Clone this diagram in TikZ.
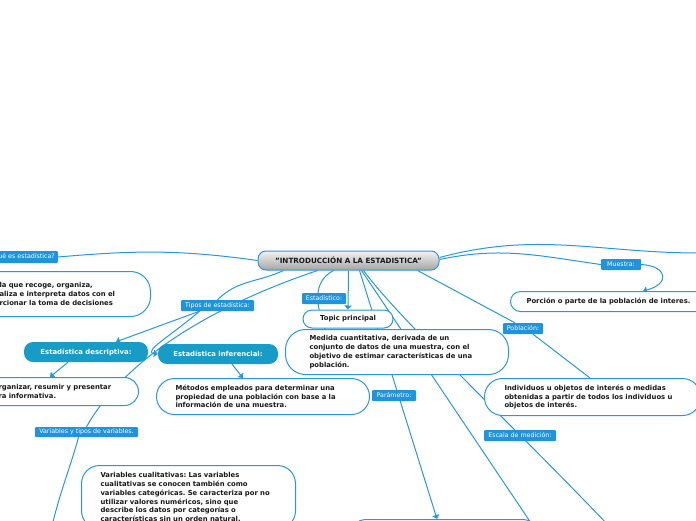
\documentclass[tikz,border=0pt]{standalone}
\usepackage{fontspec}
\setmainfont{DejaVu Sans}
\usetikzlibrary{arrows.meta}
\pgfdeclarelayer{bg}
\pgfsetlayers{bg,main}
\definecolor{lnblue}{RGB}{38,152,222}
\definecolor{lblblue}{RGB}{30,148,222}
\definecolor{tealbox}{RGB}{22,156,198}
\definecolor{txtdark}{RGB}{25,25,25}
\frenchspacing
\begin{document}
\begin{tikzpicture}[x=1pt,y=-1pt,
  conn/.style={draw=lnblue, line width=1pt},
  arr/.style={conn, -{Triangle[length=4pt,width=7pt]}},
  lbl/.style={fill=lblblue, text=white, font=\fontsize{6.3}{7}\selectfont, inner sep=0pt, rounded corners=1pt},
  tbox/.style={draw=lnblue, line width=1pt, fill=white, text=txtdark, font=\bfseries\fontsize{6.85}{8.8}\selectfont, align=left, inner ysep=0pt},
  tealb/.style={fill=tealbox, text=white, font=\bfseries\fontsize{6.9}{7.5}\selectfont, rounded corners=9pt, inner sep=0pt}
]
\useasboundingbox (0,0) rectangle (696,520);

% central topic
\node[draw=lnblue, line width=1pt, rounded corners=8pt, top color=gray!10, bottom color=gray!70,
      minimum width=181pt, minimum height=19pt, inner sep=0pt,
      font=\bfseries\fontsize{7.2}{8}\selectfont, text=txtdark] (c) at (348.5,260.5) {"INTRODUCCIÓN A LA ESTADISTICA"};

% labels
\node[lbl, minimum height=12pt, anchor=east, inner xsep=3pt] (q) at (58,257) {¿Qué es estadística?};
\node[lbl, minimum width=73pt, minimum height=11pt] (tipos) at (217.5,305.5) {Tipos de estadística:};
\node[lbl, minimum width=44pt, minimum height=11pt] (est) at (324,298.5) {Estadístico:};
\node[lbl, minimum width=40pt, minimum height=11pt] (mue) at (621,264.5) {Muestra:};
\node[lbl, minimum width=40pt, minimum height=11pt] (pob) at (523,328.5) {Población:};
\node[lbl, minimum width=44pt, minimum height=11pt] (par) at (394,395.5) {Parámetro:};
\node[lbl, minimum width=103pt, minimum height=10pt] (var) at (86.5,432) {Variables y tipos de variables.};
\node[lbl, minimum width=72pt, minimum height=11pt] (esc) at (520,435.5) {Escala de medición:};

% teal topics
\node[tealb, minimum width=124pt, minimum height=20pt] (desc) at (86,352) {Estadística descriptiva:};
\node[tealb, minimum width=120pt, minimum height=20pt] (inf) at (218,354) {Estadística inferencial:};

% text boxes
\node[tbox, anchor=north west, text width=132pt, inner xsep=19pt, minimum height=45pt, rounded corners=20pt] (defb) at (-20,271)
  {la que recoge, organiza,\\aliza e interpreta datos con el\\rcionar la toma de decisiones\\[3pt]};
\node[tbox, anchor=north west, text width=122pt, inner xsep=18pt, minimum height=28pt, rounded corners=14pt] (dbox) at (-20,377)
  {rganizar, resumir y presentar\\ra informativa.};
\node[tbox, anchor=north west, text width=175pt, inner xsep=19pt, minimum height=36pt, rounded corners=18pt] (ibox) at (156,378)
  {Métodos empleados para determinar una\\propiedad de una población con base a la\\información de una muestra.};
\node[tbox, align=center, minimum width=90pt, minimum height=18pt, inner xsep=0pt, rounded corners=9pt] (tp) at (348,319) {Topic principal};
\node[tbox, anchor=north west, text width=175pt, inner xsep=24pt, minimum height=45pt, rounded corners=20pt] (med) at (285,329)
  {Medida cuantitativa, derivada de un\\conjunto de datos de una muestra, con el\\objetivo de estimar características de una\\población.};
\node[tbox, anchor=north west, text width=178pt, inner xsep=16pt, minimum height=20pt, rounded corners=10pt] (por) at (510,291)
  {Porción o parte de la población de interes.};
\node[tbox, anchor=north west, text width=176pt, inner xsep=20pt, minimum height=37pt, rounded corners=18pt] (ind) at (484,378)
  {Individuos u objetos de interés o medidas\\obtenidas a partir de todos los individuos u\\objetos de interés.};
\node[tbox, anchor=north west, text width=176pt, inner xsep=19pt, inner ysep=7pt, rounded corners=18pt] (vcual) at (81,465)
  {Variables cualitativas: Las variables\\cualitativas se conocen también como\\variables categóricas. Se caracteriza por no\\utilizar valores numéricos, sino que\\describe los datos por categorías o\\características sin un orden natural.};
\node[draw=lnblue, line width=1pt, fill=white, rounded corners=18pt, anchor=north west, minimum width=192pt, minimum height=40pt] (bot) at (348,519) {};

\coordinate (re) at (700,253);
\coordinate (vend) at (52,526);
\coordinate (aend) at (533,526);
\coordinate (bend) at (609,526);

\begin{pgfonlayer}{bg}
\draw[conn] (c.west) to[out=172,in=5] (q.east);
\draw[conn] ([yshift=3pt]c.east) to[out=15,in=180] (re);
\draw[conn] ([yshift=1pt]c.east) to[out=12,in=172] (mue.west);
\draw[arr] (mue.east) .. controls (668,266) and (670,284) .. ([xshift=133pt]por.north west);
\draw[conn] ([xshift=-22pt]c.south east) to[out=-28,in=152] ([xshift=-8pt]pob.north);
\draw[conn] ([xshift=10pt]pob.south) -- ([xshift=106pt]ind.north west);
\draw[conn] ([xshift=26pt]c.south west) to[out=-155,in=45] (tipos.north);
\draw[arr] ([xshift=-18pt]tipos.south) -- ([xshift=30pt]desc.north);
\draw[arr] ([xshift=-18pt]tipos.south) .. controls (172,335) and (142,352) .. (inf.west);
\draw[conn] ([xshift=60pt]c.south west) .. controls (230,300) and (130,350) .. (var.north);
\draw[conn] ([xshift=-8pt]var.south) .. controls (72,462) and (60,492) .. (vend);
\draw[arr] ([xshift=-18pt]desc.south) -- ([xshift=70pt]dbox.north west);
\draw[arr] ([xshift=14pt]inf.south) -- ([xshift=87pt]ibox.north west);
\draw[conn] ([xshift=-15pt]c.south) .. controls (312,282) and (316,305) .. ([xshift=40pt]med.north west);
\draw[arr] (c.south) -- (tp.north);
\draw[arr] ([xshift=11pt]c.south) -- ([xshift=89pt]bot.north west);
\draw[conn] ([xshift=13pt]c.south) -- (aend);
\draw[conn] ([xshift=15pt]c.south) .. controls (400,320) and (500,412) .. (bend);
\end{pgfonlayer}
\end{tikzpicture}
\end{document}
